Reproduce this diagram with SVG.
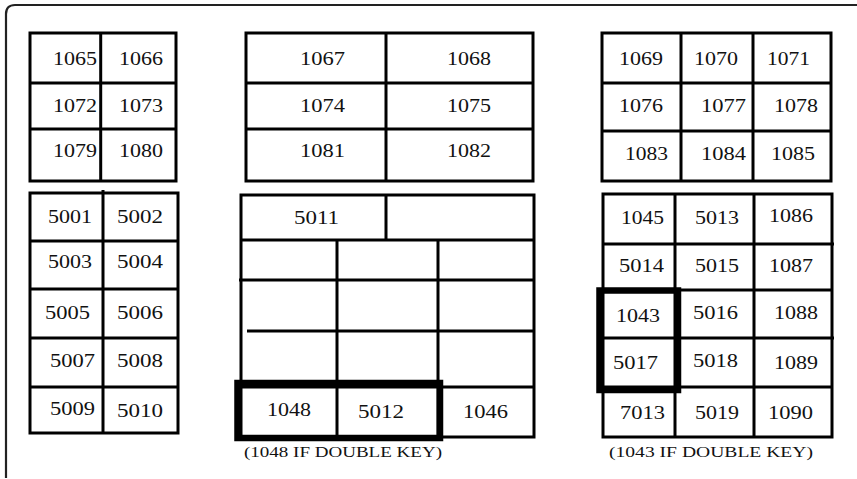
<svg xmlns="http://www.w3.org/2000/svg" width="857" height="479" viewBox="0 0 857 479">
<style>
.g{fill:none;stroke:#000;stroke-width:3}
.b{fill:none;stroke:#000;stroke-width:6.5}
.t{font-family:"Liberation Serif","Times New Roman",serif;font-size:18.5px;fill:#111}
.c{font-family:"Liberation Serif","Times New Roman",serif;font-size:15px;fill:#111}
</style>
<rect width="857" height="479" fill="#fff"/>
<path d="M6,478 V14 Q6,5 15,5 H857" fill="none" stroke="#222" stroke-width="2.2"/>
<g id="grid-left-top" class="g">
<rect x="30" y="33" width="146" height="148"/>
<path d="M100.7,33V181M30,83H176M30,129H176"/>
</g>
<g id="grid-left-bottom" class="g">
<rect x="30" y="193" width="148" height="240"/>
<path d="M103,190V433M30,241H178M30,289H178M30,338H178M30,387H178"/>
</g>
<g id="grid-mid-top" class="g">
<rect x="246" y="33" width="287" height="148"/>
<path d="M386,33V181M246,83H533M246,129H533"/>
</g>
<g id="grid-mid-bottom" class="g">
<rect x="241" y="195" width="293" height="242"/>
<path d="M241,240H534M386,195V240M337,240V437M438,240V437M239,280H534M247,331H534M241,387H534"/>
</g>
<g id="grid-right-top" class="g">
<rect x="602" y="33" width="229" height="148"/>
<path d="M681,33V181M753,33V181M602,83H831M602,131H831"/>
</g>
<g id="grid-right-bottom" class="g">
<rect x="603" y="194" width="229" height="243"/>
<path d="M675,194V437M754,194V437M603,244H834M603,290H832M603,338H834M603,387H832"/>
</g>
<g id="double-key-mid" class="b"><rect x="237.5" y="383" width="202.5" height="55"/></g>
<g id="double-key-right" class="b"><rect x="599.5" y="290.5" width="78.5" height="99.5"/></g>
<g class="t">
<g id="k1065"><text x="53" y="65" textLength="44" lengthAdjust="spacingAndGlyphs">1065</text></g>
<g id="k1066"><text x="119" y="65" textLength="44" lengthAdjust="spacingAndGlyphs">1066</text></g>
<g id="k1072"><text x="53" y="112" textLength="44" lengthAdjust="spacingAndGlyphs">1072</text></g>
<g id="k1073"><text x="119" y="112" textLength="44" lengthAdjust="spacingAndGlyphs">1073</text></g>
<g id="k1079"><text x="53" y="157" textLength="44" lengthAdjust="spacingAndGlyphs">1079</text></g>
<g id="k1080"><text x="119" y="157" textLength="44" lengthAdjust="spacingAndGlyphs">1080</text></g>
<g id="k1067"><text x="300" y="65" textLength="45" lengthAdjust="spacingAndGlyphs">1067</text></g>
<g id="k1068"><text x="447" y="65" textLength="44" lengthAdjust="spacingAndGlyphs">1068</text></g>
<g id="k1074"><text x="300" y="112" textLength="45" lengthAdjust="spacingAndGlyphs">1074</text></g>
<g id="k1075"><text x="447" y="112" textLength="44" lengthAdjust="spacingAndGlyphs">1075</text></g>
<g id="k1081"><text x="300" y="157" textLength="45" lengthAdjust="spacingAndGlyphs">1081</text></g>
<g id="k1082"><text x="447" y="157" textLength="44" lengthAdjust="spacingAndGlyphs">1082</text></g>
<g id="k1069"><text x="619" y="65" textLength="44" lengthAdjust="spacingAndGlyphs">1069</text></g>
<g id="k1070"><text x="694" y="65" textLength="44" lengthAdjust="spacingAndGlyphs">1070</text></g>
<g id="k1071"><text x="767" y="65" textLength="43" lengthAdjust="spacingAndGlyphs">1071</text></g>
<g id="k1076"><text x="619" y="112" textLength="44" lengthAdjust="spacingAndGlyphs">1076</text></g>
<g id="k1077"><text x="701" y="112" textLength="45" lengthAdjust="spacingAndGlyphs">1077</text></g>
<g id="k1078"><text x="774" y="112" textLength="44" lengthAdjust="spacingAndGlyphs">1078</text></g>
<g id="k1083"><text x="625" y="160" textLength="43" lengthAdjust="spacingAndGlyphs">1083</text></g>
<g id="k1084"><text x="701" y="160" textLength="45" lengthAdjust="spacingAndGlyphs">1084</text></g>
<g id="k1085"><text x="771" y="160" textLength="44" lengthAdjust="spacingAndGlyphs">1085</text></g>
<g id="k5001"><text x="48" y="223" textLength="44" lengthAdjust="spacingAndGlyphs">5001</text></g>
<g id="k5002"><text x="117" y="223" textLength="46" lengthAdjust="spacingAndGlyphs">5002</text></g>
<g id="k5003"><text x="48" y="268" textLength="44" lengthAdjust="spacingAndGlyphs">5003</text></g>
<g id="k5004"><text x="117" y="268" textLength="46" lengthAdjust="spacingAndGlyphs">5004</text></g>
<g id="k5005"><text x="45" y="319" textLength="45" lengthAdjust="spacingAndGlyphs">5005</text></g>
<g id="k5006"><text x="117" y="319" textLength="46" lengthAdjust="spacingAndGlyphs">5006</text></g>
<g id="k5007"><text x="50" y="367" textLength="45" lengthAdjust="spacingAndGlyphs">5007</text></g>
<g id="k5008"><text x="117" y="367" textLength="46" lengthAdjust="spacingAndGlyphs">5008</text></g>
<g id="k5009"><text x="50" y="415" textLength="45" lengthAdjust="spacingAndGlyphs">5009</text></g>
<g id="k5010"><text x="117" y="417" textLength="46" lengthAdjust="spacingAndGlyphs">5010</text></g>
<g id="k5011"><text x="294" y="224" textLength="45" lengthAdjust="spacingAndGlyphs">5011</text></g>
<g id="k1048"><text x="267" y="416" textLength="44" lengthAdjust="spacingAndGlyphs">1048</text></g>
<g id="k5012"><text x="358" y="418" textLength="46" lengthAdjust="spacingAndGlyphs">5012</text></g>
<g id="k1046"><text x="463" y="418" textLength="45" lengthAdjust="spacingAndGlyphs">1046</text></g>
<g id="k1045"><text x="621" y="224" textLength="43" lengthAdjust="spacingAndGlyphs">1045</text></g>
<g id="k5013"><text x="695" y="224" textLength="44" lengthAdjust="spacingAndGlyphs">5013</text></g>
<g id="k1086"><text x="769" y="222" textLength="44" lengthAdjust="spacingAndGlyphs">1086</text></g>
<g id="k5014"><text x="619" y="272" textLength="45" lengthAdjust="spacingAndGlyphs">5014</text></g>
<g id="k5015"><text x="695" y="272" textLength="44" lengthAdjust="spacingAndGlyphs">5015</text></g>
<g id="k1087"><text x="769" y="272" textLength="44" lengthAdjust="spacingAndGlyphs">1087</text></g>
<g id="k1043"><text x="616" y="322" textLength="44" lengthAdjust="spacingAndGlyphs">1043</text></g>
<g id="k5016"><text x="693" y="319" textLength="45" lengthAdjust="spacingAndGlyphs">5016</text></g>
<g id="k1088"><text x="774" y="319" textLength="44" lengthAdjust="spacingAndGlyphs">1088</text></g>
<g id="k5017"><text x="613" y="369" textLength="45" lengthAdjust="spacingAndGlyphs">5017</text></g>
<g id="k5018"><text x="693" y="367" textLength="45" lengthAdjust="spacingAndGlyphs">5018</text></g>
<g id="k1089"><text x="774" y="369" textLength="44" lengthAdjust="spacingAndGlyphs">1089</text></g>
<g id="k7013"><text x="620" y="419" textLength="45" lengthAdjust="spacingAndGlyphs">7013</text></g>
<g id="k5019"><text x="695" y="419" textLength="44" lengthAdjust="spacingAndGlyphs">5019</text></g>
<g id="k1090"><text x="768" y="419" textLength="45" lengthAdjust="spacingAndGlyphs">1090</text></g>
</g>
<g id="captions" class="c">
<text x="244" y="457" textLength="198" lengthAdjust="spacingAndGlyphs">(1048 IF DOUBLE KEY)</text>
<text x="609" y="457" textLength="204" lengthAdjust="spacingAndGlyphs">(1043 IF DOUBLE KEY)</text>
</g>
</svg>
